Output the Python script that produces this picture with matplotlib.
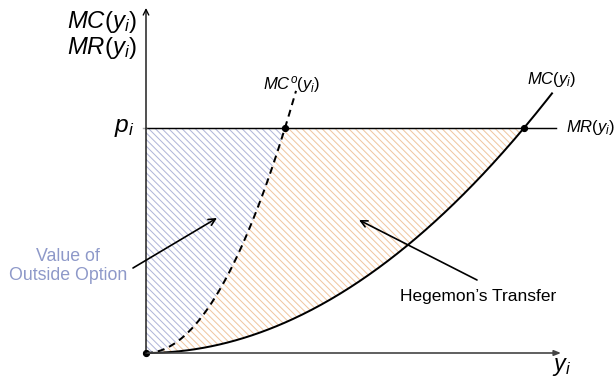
import numpy as np
import matplotlib.pyplot as plt

plt.rcParams['font.family'] = ['Liberation Sans', 'DejaVu Sans']
plt.rcParams['mathtext.fontset'] = 'custom'
plt.rcParams['mathtext.rm'] = 'Liberation Sans'
plt.rcParams['mathtext.it'] = 'Liberation Sans:italic'
plt.rcParams['hatch.linewidth'] = 0.9

# schematic values (axis units)
price = 2.25          # p_i = MR(y_i)
mc_coef = 0.1575      # MC(y) = c * y^2
mco_coef = 1.165      # MC^o(y) = c * y^2
mc_end = 4.06
mco_end = 1.50
x_max = 4.15
y_max = 3.45

DPI = 80
fig = plt.figure(figsize=(616 / DPI, 377 / DPI), dpi=DPI)
ax = fig.add_axes([0, 0, 1, 1])
ax.set_xlim(-1.46, 4.70)
ax.set_ylim(-0.24, 3.53)
ax.axis('off')

y_star = np.sqrt(price / mc_coef)
yo_star = np.sqrt(price / mco_coef)

blue = '#b0b5d8'
orange = '#f0c6a0'

pp = np.linspace(0, price, 200)
# outside option area: between axis, price line and MC^o
ax.fill_betweenx(pp, 0, np.sqrt(pp / mco_coef),
                 facecolor='none', edgecolor=blue, hatch='\\\\\\\\', linewidth=0)
# transfer area: between MC^o and MC
ax.fill_betweenx(pp, np.sqrt(pp / mco_coef), np.sqrt(pp / mc_coef),
                 facecolor='none', edgecolor=orange, hatch='\\\\\\\\', linewidth=0)

# axes
ax.annotate('', xy=(x_max, 0), xytext=(0, 0),
            arrowprops=dict(arrowstyle='-|>,head_length=0.5,head_width=0.2', color='#444444', lw=1.5,
                            shrinkA=0, shrinkB=0))
ax.annotate('', xy=(0, y_max), xytext=(0, 0),
            arrowprops=dict(arrowstyle='->,head_length=0.5,head_width=0.25', color='black', lw=1.2,
                            shrinkA=0, shrinkB=0))

# price line
ax.plot([0, 4.10], [price, price], color='black', lw=1.3)
ax.plot([-0.03, 0], [price, price], color='#aaaaaa', lw=1.3)

# curves
xs = np.linspace(0, mc_end, 300)
ax.plot(xs, mc_coef * xs ** 2, color='black', lw=1.8)
xo = np.linspace(0, mco_end, 300)
ax.plot(xo, mco_coef * xo ** 2, color='black', lw=1.8, ls=(0, (3.5, 2.5)))

# points
ax.plot([0, yo_star, y_star], [0, price, price], 'o', color='black', ms=5.5)

# labels
ax.text(-0.09, 3.31, r'$MC(y_i)$', ha='right', va='center', fontsize=21.5)
ax.text(-0.09, 3.05, r'$MR(y_i)$', ha='right', va='center', fontsize=21.5)
ax.text(-0.12, price, r'$p_i$', ha='right', va='center', fontsize=22)
ax.text(4.16, -0.14, r'$y_i$', ha='center', va='center', fontsize=21)
ax.text(1.46, 2.68, r'$MC^o(y_i)$', ha='center', va='center', fontsize=15)
ax.text(4.06, 2.73, r'$MC(y_i)$', ha='center', va='center', fontsize=15)
ax.text(4.20, price, r'$MR(y_i)$', ha='left', va='center', fontsize=15)

ax.text(-0.78, 0.87, 'Value of\nOutside Option', ha='center', va='center',
        fontsize=16, color='#8e99c9', linespacing=1.2)
ax.text(3.32, 0.56, "Hegemon\u2019s Transfer", ha='center', va='center', fontsize=15.7)

ax.annotate('', xy=(0.71, 1.35), xytext=(-0.13, 0.85),
            arrowprops=dict(arrowstyle='->,head_length=0.6,head_width=0.3', color='black', lw=1.5,
                            shrinkA=0, shrinkB=0))
ax.annotate('', xy=(2.13, 1.33), xytext=(3.31, 0.73),
            arrowprops=dict(arrowstyle='->,head_length=0.6,head_width=0.3', color='black', lw=1.5,
                            shrinkA=0, shrinkB=0))

fig.savefig('out.png', dpi=DPI)
